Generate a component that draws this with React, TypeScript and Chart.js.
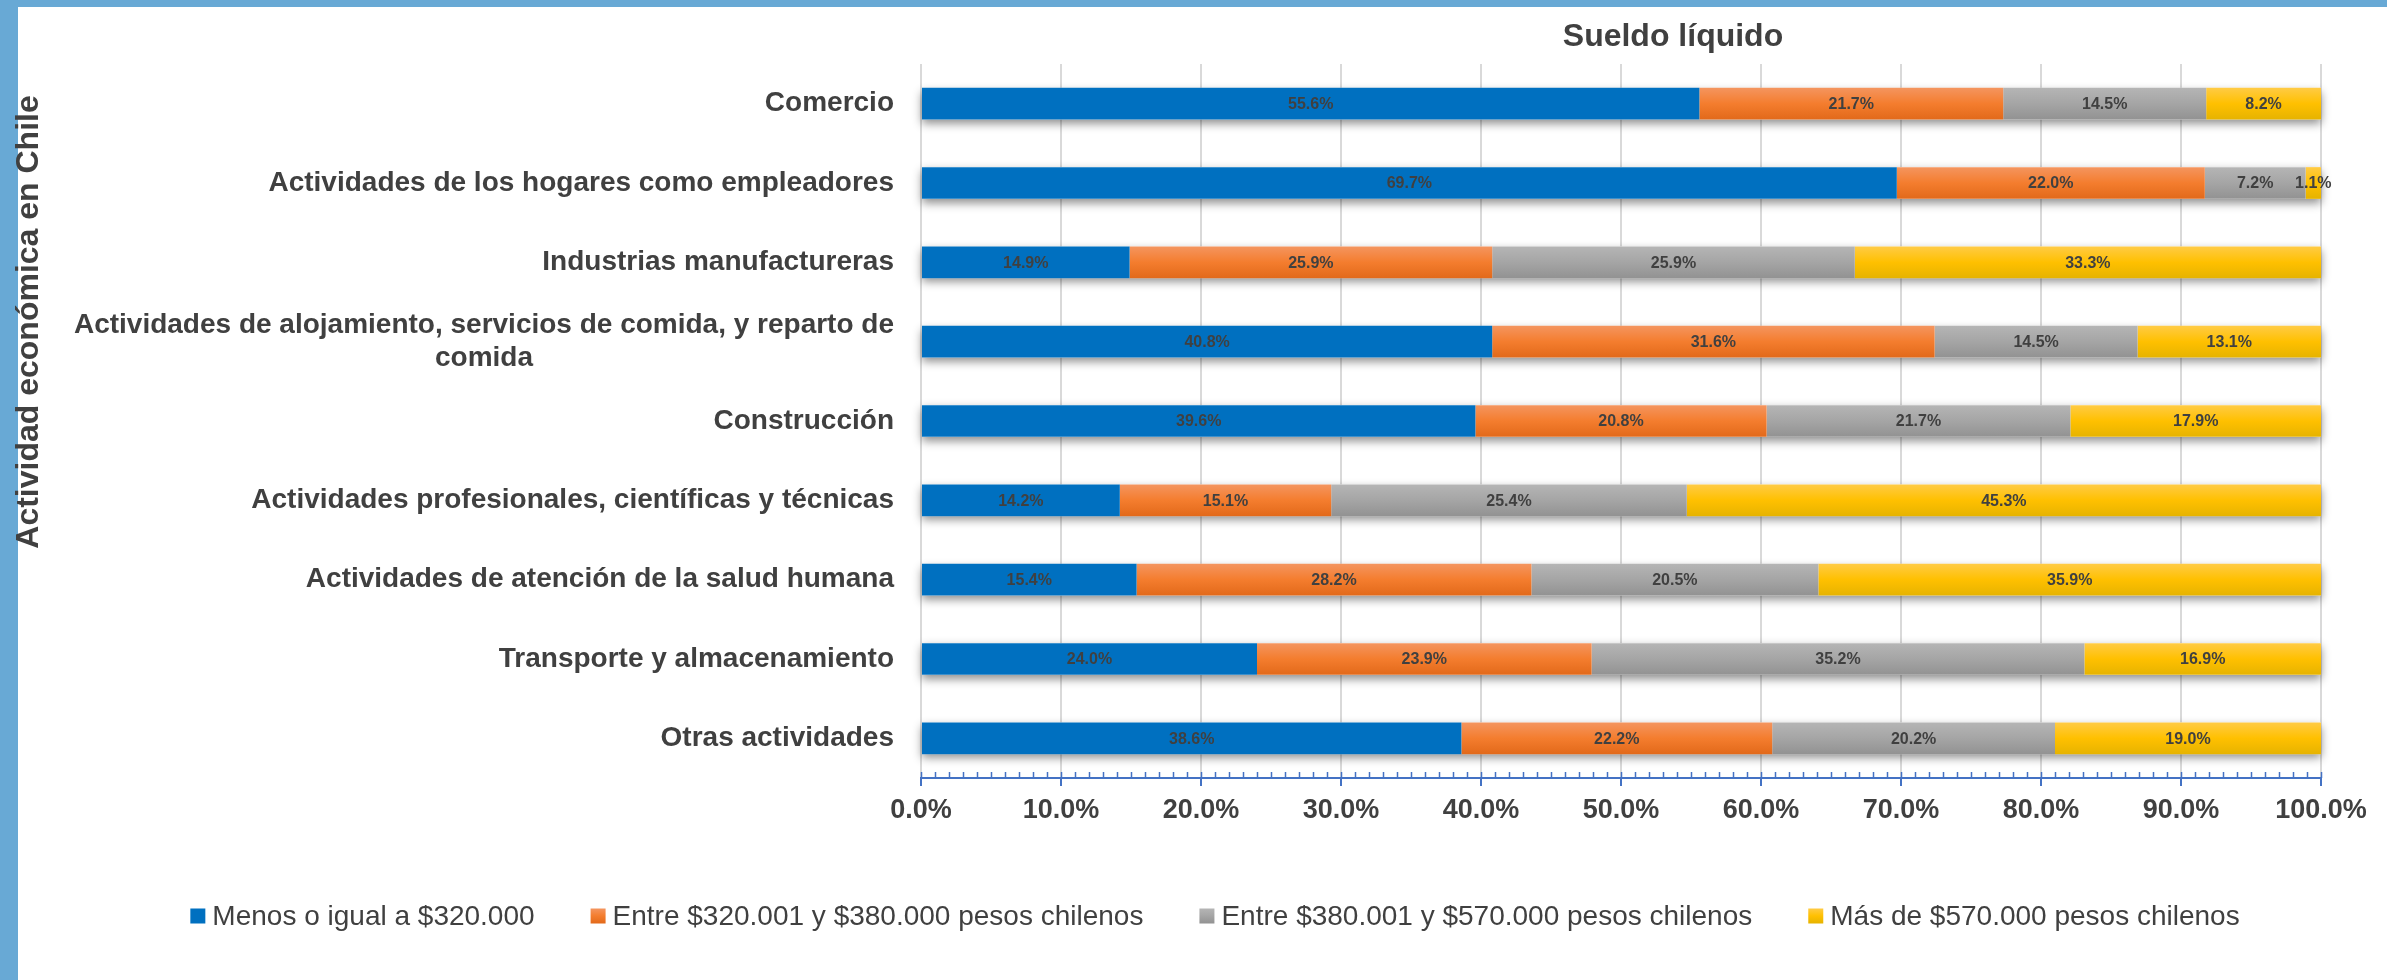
import React, { useEffect, useRef } from 'react';
import { Chart, registerables } from 'chart.js';

Chart.register(...registerables);

// ---------- data ----------
const chartTitle = 'Sueldo líquido';
const yAxisTitle = 'Actividad económica en Chile';

const categories: (string | string[])[] = [
  'Comercio',
  'Actividades de los hogares como empleadores',
  'Industrias manufactureras',
  ['Actividades de alojamiento, servicios de comida, y reparto de', 'comida'],
  'Construcción',
  'Actividades profesionales, científicas y técnicas',
  'Actividades de atención de la salud humana',
  'Transporte y almacenamiento',
  'Otras actividades',
];

const seriesNames = [
  'Menos o igual a $320.000',
  'Entre $320.001 y $380.000 pesos chilenos',
  'Entre $380.001 y $570.000 pesos chilenos',
  'Más de $570.000 pesos chilenos',
];

const menosIgual320 = [55.6, 69.7, 14.9, 40.8, 39.6, 14.2, 15.4, 24.0, 38.6];
const entre320y380 = [21.7, 22.0, 25.9, 31.6, 20.8, 15.1, 28.2, 23.9, 22.2];
const entre380y570 = [14.5, 7.2, 25.9, 14.5, 21.7, 25.4, 20.5, 35.2, 20.2];
const masDe570 = [8.2, 1.1, 33.3, 13.1, 17.9, 45.3, 35.9, 16.9, 19.0];

const xMin = 0;
const xMax = 100;
const xStep = 10;
const minorStep = 1;

// ---------- styles ----------
const FONT = '"Liberation Sans", Arial, Helvetica, sans-serif';
const TEXT = '#404040';
const AXIS_BLUE = '#4472C4';
const GRID = '#D9D9D9';
const FRAME = '#68A9D5';
const BAR_PCT = 0.4;

const seriesStops: string[][] = [
  ['#0070C0', '#0070C0', '#0070C0'],
  ['#F4955F', '#F47D2E', '#E2691A'],
  ['#B5B5B5', '#A5A5A5', '#929292'],
  ['#FFCB45', '#FFC000', '#E6B300'],
];

const makeBg = (stops: string[]) => (c: any) => {
  const chart = c.chart;
  const yScale = chart.scales && chart.scales.y;
  if (!yScale || c.type !== 'data' || !chart.chartArea) return stops[1];
  const yc = yScale.getPixelForValue(c.dataIndex);
  const half = (Math.abs(yScale.getPixelForValue(1) - yScale.getPixelForValue(0)) * BAR_PCT) / 2;
  const g = chart.ctx.createLinearGradient(0, yc - half, 0, yc + half);
  g.addColorStop(0, stops[0]);
  g.addColorStop(0.5, stops[1]);
  g.addColorStop(1, stops[2]);
  return g;
};

const shadowPlugin = {
  id: 'barShadow',
  beforeDatasetsDraw(chart: any) {
    const n = chart.data.datasets.length;
    const first = chart.getDatasetMeta(0);
    const last = chart.getDatasetMeta(n - 1);
    const ctx = chart.ctx;
    ctx.save();
    ctx.shadowColor = 'rgba(0,0,0,0.45)';
    ctx.shadowBlur = 9;
    ctx.shadowOffsetX = 0;
    ctx.shadowOffsetY = 4;
    ctx.fillStyle = '#ffffff';
    first.data.forEach((a: any, i: number) => {
      const b = last.data[i];
      const pa = a.getProps(['x', 'y', 'base', 'height'], true);
      const pb = b.getProps(['x'], true);
      ctx.fillRect(pa.base, pa.y - pa.height / 2, pb.x - pa.base, pa.height);
    });
    ctx.restore();
  },
};

const labelsPlugin = {
  id: 'customText',
  afterDatasetsDraw(chart: any) {
    const ctx = chart.ctx;
    ctx.save();
    ctx.font = `bold 16px ${FONT}`;
    ctx.fillStyle = TEXT;
    ctx.textAlign = 'center';
    ctx.textBaseline = 'middle';
    chart.data.datasets.forEach((ds: any, di: number) => {
      const meta = chart.getDatasetMeta(di);
      meta.data.forEach((el: any, i: number) => {
        const p = el.getProps(['x', 'y', 'base'], true);
        const v = ds.data[i];
        ctx.fillText(`${Number(v).toFixed(1)}%`, (p.x + p.base) / 2, p.y + 1);
      });
    });
    ctx.restore();
  },
  afterDraw(chart: any) {
    const ctx = chart.ctx;
    const xScale = chart.scales.x;
    const yScale = chart.scales.y;
    const area = chart.chartArea;
    ctx.save();

    // minor ticks
    ctx.strokeStyle = AXIS_BLUE;
    ctx.lineWidth = 1.5;
    ctx.beginPath();
    for (let v = xMin; v <= xMax; v += minorStep) {
      const px = Math.round(xScale.getPixelForValue(v)) + 0.5;
      ctx.moveTo(px, area.bottom - 6);
      ctx.lineTo(px, area.bottom);
    }
    ctx.stroke();

    // category labels
    ctx.font = `bold 28px ${FONT}`;
    ctx.fillStyle = TEXT;
    ctx.textBaseline = 'middle';
    const right = area.left - 27;
    const lh = 33;
    categories.forEach((lab, i) => {
      const lines = Array.isArray(lab) ? lab : [lab];
      const yc = yScale.getPixelForValue(i);
      const widths = lines.map((l) => ctx.measureText(l).width);
      const maxW = Math.max(...widths);
      lines.forEach((l, k) => {
        const y = yc + (k - (lines.length - 1) / 2) * lh;
        ctx.textAlign = 'center';
        ctx.fillText(l, right - maxW / 2, y);
      });
    });

    // chart title
    ctx.font = `bold 32px ${FONT}`;
    ctx.textAlign = 'center';
    ctx.textBaseline = 'alphabetic';
    ctx.fillText(chartTitle, 1673, 46);

    // y axis title
    ctx.save();
    ctx.translate(29, 322);
    ctx.rotate(-Math.PI / 2);
    ctx.font = `bold 32px ${FONT}`;
    ctx.textAlign = 'center';
    ctx.textBaseline = 'middle';
    ctx.fillText(yAxisTitle, 0, 0);
    ctx.restore();

    // legend
    ctx.font = `28px ${FONT}`;
    ctx.textBaseline = 'middle';
    ctx.textAlign = 'left';
    const box = 15;
    const gapText = 7;
    const gapItem = 56;
    const ws = chart.data.datasets.map((d: any) => ctx.measureText(d.label).width);
    const total = ws.reduce((s: number, w: number) => s + box + gapText + w, 0) + gapItem * (ws.length - 1);
    let x = 1215 - total / 2;
    const ly = 916;
    chart.data.datasets.forEach((d: any, i: number) => {
      const st = seriesStops[i];
      const g = ctx.createLinearGradient(0, ly - box / 2, 0, ly + box / 2);
      g.addColorStop(0, st[0]);
      g.addColorStop(0.5, st[1]);
      g.addColorStop(1, st[2]);
      ctx.fillStyle = g;
      ctx.fillRect(x, ly - box / 2, box, box);
      ctx.fillStyle = TEXT;
      ctx.fillText(d.label, x + box + gapText, ly + 1);
      x += box + gapText + ws[i] + gapItem;
    });

    ctx.restore();
  },
};

export default function App() {
  const ref = useRef<HTMLCanvasElement | null>(null);

  useEffect(() => {
    if (!ref.current) return;
    const series = [menosIgual320, entre320y380, entre380y570, masDe570];
    const chart = new Chart(ref.current, {
      type: 'bar',
      data: {
        labels: categories.map((c) => (Array.isArray(c) ? c.join(' ') : c)),
        datasets: series.map((data, i) => ({
          label: seriesNames[i],
          data,
          backgroundColor: makeBg(seriesStops[i]),
          borderWidth: 0,
          barPercentage: BAR_PCT,
          categoryPercentage: 1,
        })),
      },
      options: {
        indexAxis: 'y',
        responsive: false,
        animation: false,
        devicePixelRatio: 1,
        layout: { padding: { top: 64, right: 66, bottom: 142, left: 0 } },
        plugins: {
          legend: { display: false },
          title: { display: false },
          tooltip: { enabled: false },
        },
        scales: {
          x: {
            type: 'linear',
            stacked: true,
            min: xMin,
            max: xMax,
            ticks: {
              stepSize: xStep,
              color: TEXT,
              padding: 8,
              font: { family: FONT, size: 27, weight: 'bold' },
              callback: (v: any) => `${Number(v).toFixed(1)}%`,
            },
            grid: {
              color: GRID,
              lineWidth: 2,
              tickColor: AXIS_BLUE,
              tickWidth: 2,
              tickLength: 8,
              drawTicks: true,
            },
            border: { color: AXIS_BLUE, width: 2 },
            afterFit: (s: any) => {
              s.height = 60;
            },
          },
          y: {
            type: 'category',
            stacked: true,
            grid: { display: false },
            border: { display: false },
            ticks: { display: false },
            afterFit: (s: any) => {
              s.width = 921;
            },
          },
        },
      } as any,
      plugins: [shadowPlugin, labelsPlugin],
    });
    return () => chart.destroy();
  }, []);

  return (
    <div
      style={{
        position: 'fixed',
        left: 0,
        top: 0,
        width: 2387,
        height: 980,
        background: '#ffffff',
        overflow: 'hidden',
      }}
    >
      <div style={{ position: 'absolute', left: 0, top: 0, width: 2387, height: 7, background: FRAME }} />
      <div style={{ position: 'absolute', left: 0, top: 0, width: 18, height: 980, background: FRAME }} />
      <canvas
        ref={ref}
        width={2387}
        height={980}
        style={{ position: 'absolute', left: 0, top: 0, width: 2387, height: 980 }}
      />
    </div>
  );
}
